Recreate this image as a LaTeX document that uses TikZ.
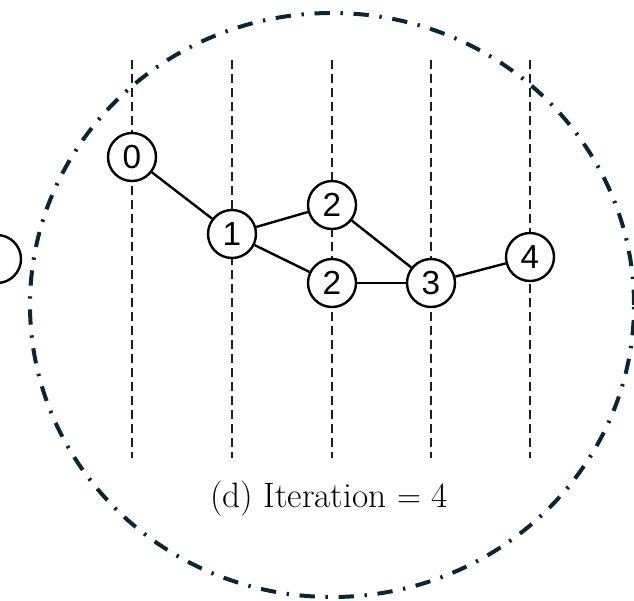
\documentclass[tikz,border=0pt]{standalone}
\usepackage{fontspec}
\usetikzlibrary{positioning}
\newfontfamily\digitfont{Liberation Sans}
\definecolor{ringnavy}{RGB}{10, 38, 52}
\definecolor{guidegray}{RGB}{30, 30, 30}

\begin{document}
\begin{tikzpicture}[
  x=0.75pt, y=-0.75pt,
  stage/.style   = {circle, draw, line width=1.8pt, fill=white, inner sep=0pt,
                    minimum size=36pt, font=\digitfont\fontsize{25}{27}\selectfont},
  guide/.style   = {guidegray, line width=1.8pt, dash pattern=on 6.5pt off 4pt},
  link/.style    = {line width=1.8pt},
  ring/.style    = {ringnavy, line width=3pt, dash pattern=on 11.5pt off 8pt on 1.8pt off 8pt},
  caption/.style = {font=\fontsize{26.5}{28}\selectfont}
]
\useasboundingbox (0,0) rectangle (634,600);

% Ring
\coordinate (ringc) at (332,305);
\draw[ring] (ringc) ellipse [x radius=226.5pt, y radius=219pt];

% Guides
\foreach \i/\x in {0/132, 1/232, 2/332, 3/431, 4/530} {
  \coordinate (top\i) at (\x,60);
  \coordinate (bot\i) at (\x,458);
  \draw[guide] (top\i) -- (bot\i);
}

% Nodes
\node[stage] (s0)  at (132,157) {0};
\node[stage] (s1)  at (232,234) {1};
\node[stage] (s2a) at (332,205) {2};
\node[stage] (s2b) at (332,283) {2};
\node[stage] (s3)  at (431,283) {3};
\node[stage] (s4)  at (530,257) {4};
\node[stage] (prev) at (-3,259) {};

% Edges
\draw[link] (s0) -- (s1);
\draw[link] (s1) -- (s2a);
\draw[link] (s1) -- (s2b);
\draw[link] (s2a) -- (s3);
\draw[link] (s2b) -- (s3);
\draw[link] (s3) -- (s4);

% Caption
\node[caption] (cap) at (329,499) {(d) Iteration $=$ 4};

\end{tikzpicture}
\end{document}
